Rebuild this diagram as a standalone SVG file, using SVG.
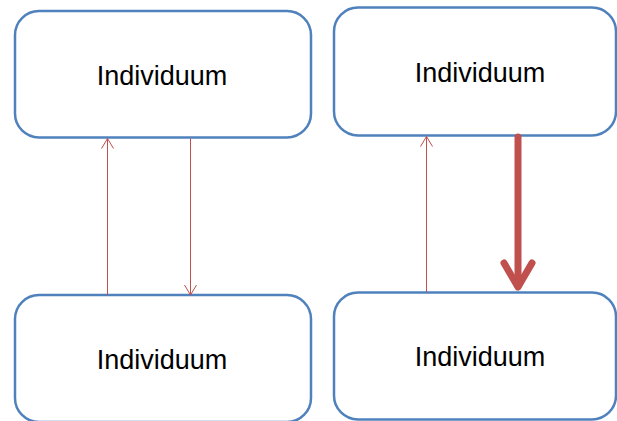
<svg xmlns="http://www.w3.org/2000/svg" width="617" height="421" viewBox="0 0 617 421">
  <style>
    .box { fill: #ffffff; stroke: #4f81bd; stroke-width: 2.5; }
    .label { font-family: "Liberation Sans", Arial, sans-serif; font-size: 27px; fill: #000000; text-anchor: middle; }
    .thin { fill: none; stroke: #c0504d; stroke-width: 1; }
    .thick { fill: none; stroke: #c0504d; stroke-width: 7; stroke-linecap: round; stroke-linejoin: round; }
  </style>
  <rect width="617" height="421" fill="#ffffff"/>

  <g id="node-top-left">
    <rect class="box" x="15" y="11" width="296" height="126.5" rx="24"/>
    <text class="label" x="162" y="85">Individuum</text>
  </g>
  <g id="node-bottom-left">
    <rect class="box" x="15" y="295" width="296" height="127" rx="24"/>
    <text class="label" x="162" y="369">Individuum</text>
  </g>
  <g id="node-top-right">
    <rect class="box" x="334" y="7.5" width="282" height="128" rx="24"/>
    <text class="label" x="480" y="82">Individuum</text>
  </g>
  <g id="node-bottom-right">
    <rect class="box" x="334" y="292.5" width="282" height="127" rx="24"/>
    <text class="label" x="480" y="366">Individuum</text>
  </g>

  <g id="connectors">
    <!-- left pair: thin arrows both ways -->
    <line class="thin" x1="107.5" y1="295" x2="107.5" y2="138.5"/>
    <polyline class="thin" points="101.5,148.5 107.5,138.5 113.5,148.5"/>
    <line class="thin" x1="190.5" y1="138.5" x2="190.5" y2="295"/>
    <polyline class="thin" points="184.5,285 190.5,295 196.5,285"/>
    <!-- right pair: thin up, thick down -->
    <line class="thin" x1="426.5" y1="292.5" x2="426.5" y2="136.5"/>
    <polyline class="thin" points="420.5,146.5 426.5,136.5 432.5,146.5"/>
    <line class="thick" x1="518" y1="137" x2="518" y2="286"/>
    <polyline class="thick" points="504,263 518,287 532,263"/>
  </g>
</svg>
